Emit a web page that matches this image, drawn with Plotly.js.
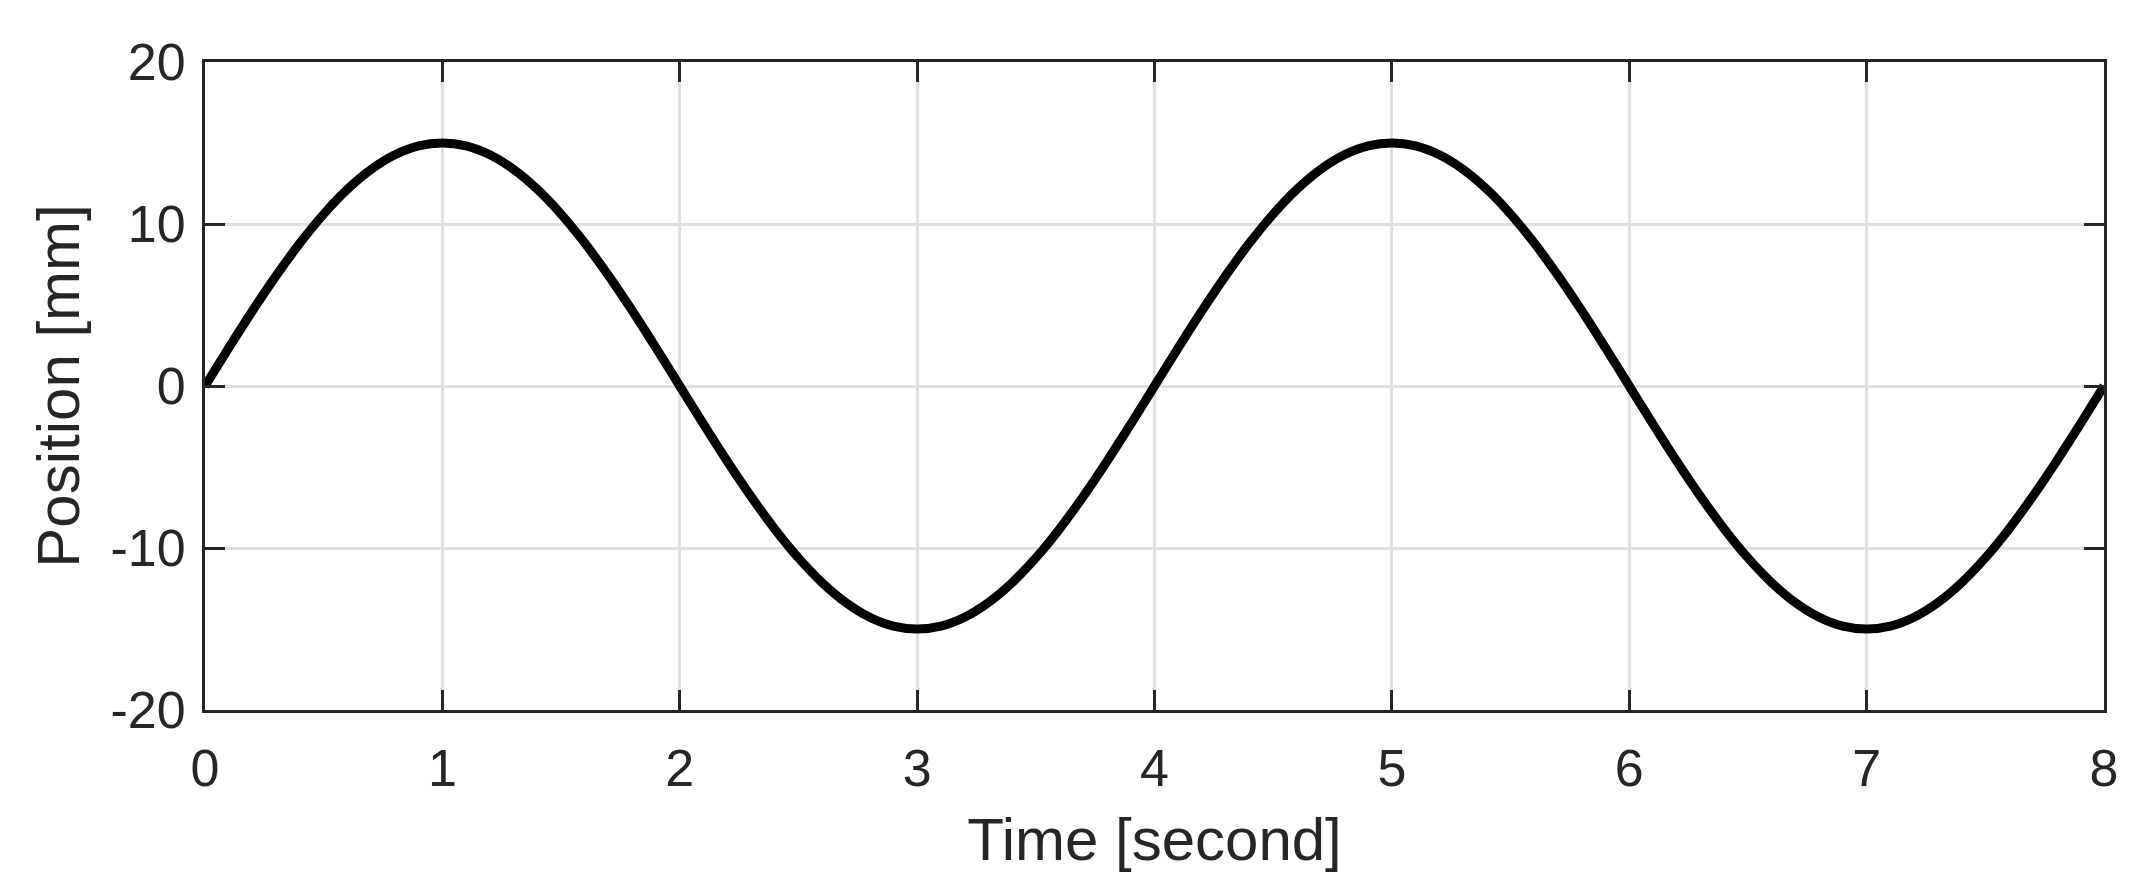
<!DOCTYPE html>
<html>
<head>
<meta charset="utf-8">
<script src="https://cdn.plot.ly/plotly-3.0.1.min.js"></script>
<style>html,body{margin:0;padding:0;background:#fff;}#chart{width:2152px;height:891px;}</style>
</head>
<body>
<div id="chart"></div>
<script>
// Time samples [second]
const timeSeconds = [
  0.0,0.1,0.2,0.3,0.4,0.5,0.6,0.7,0.8,0.9,
  1.0,1.1,1.2,1.3,1.4,1.5,1.6,1.7,1.8,1.9,
  2.0,2.1,2.2,2.3,2.4,2.5,2.6,2.7,2.8,2.9,
  3.0,3.1,3.2,3.3,3.4,3.5,3.6,3.7,3.8,3.9,
  4.0,4.1,4.2,4.3,4.4,4.5,4.6,4.7,4.8,4.9,
  5.0,5.1,5.2,5.3,5.4,5.5,5.6,5.7,5.8,5.9,
  6.0,6.1,6.2,6.3,6.4,6.5,6.6,6.7,6.8,6.9,
  7.0,7.1,7.2,7.3,7.4,7.5,7.6,7.7,7.8,7.9,
  8.0
];
// Position [mm]
const positionMm = [
  0.00,2.35,4.64,6.81,8.82,10.61,12.14,13.37,14.27,14.82,
  15.00,14.82,14.27,13.37,12.14,10.61,8.82,6.81,4.64,2.35,
  0.00,-2.35,-4.64,-6.81,-8.82,-10.61,-12.14,-13.37,-14.27,-14.82,
  -15.00,-14.82,-14.27,-13.37,-12.14,-10.61,-8.82,-6.81,-4.64,-2.35,
  0.00,2.35,4.64,6.81,8.82,10.61,12.14,13.37,14.27,14.82,
  15.00,14.82,14.27,13.37,12.14,10.61,8.82,6.81,4.64,2.35,
  0.00,-2.35,-4.64,-6.81,-8.82,-10.61,-12.14,-13.37,-14.27,-14.82,
  -15.00,-14.82,-14.27,-13.37,-12.14,-10.61,-8.82,-6.81,-4.64,-2.35,
  0.00
];
const xTickVals = [0,1,2,3,4,5,6,7,8];
const yTickVals = [-20,-10,0,10,20];
const xTitle = 'Time [second]';
const yTitle = 'Position [mm]';

const FONT = '"Liberation Sans", Arial, Helvetica, sans-serif';
const INK = '#262626';

const axisCommon = {
  showline: true, linecolor: INK, linewidth: 3, mirror: 'ticks',
  ticks: 'inside', ticklen: 20, tickwidth: 3, tickcolor: INK,
  showgrid: true, gridcolor: '#dfdfdf', gridwidth: 3,
  zeroline: false,
  tickfont: {family: FONT, size: 52, color: INK},
  tickmode: 'array'
};

Plotly.newPlot('chart', [{
  x: timeSeconds, y: positionMm,
  type: 'scatter', mode: 'lines',
  line: {color: '#000000', width: 9, shape: 'spline', smoothing: 1},
  hoverinfo: 'skip'
}], {
  width: 2152, height: 891,
  margin: {l: 205, r: 48, t: 62, b: 181},
  paper_bgcolor: '#ffffff', plot_bgcolor: '#ffffff',
  showlegend: false,
  xaxis: Object.assign({}, axisCommon, {
    range: [0, 8], tickvals: xTickVals, ticktext: xTickVals.map(String),
    ticklabelstandoff: 11,
    title: {text: xTitle, font: {family: FONT, size: 60, color: INK}, standoff: 22}
  }),
  yaxis: Object.assign({}, axisCommon, {
    range: [-20, 20], tickvals: yTickVals, ticktext: yTickVals.map(String),
    ticklabelstandoff: 6,
    title: {text: yTitle, font: {family: FONT, size: 60, color: INK}, standoff: 12}
  })
}, {staticPlot: true, displayModeBar: false});
</script>
</body>
</html>
